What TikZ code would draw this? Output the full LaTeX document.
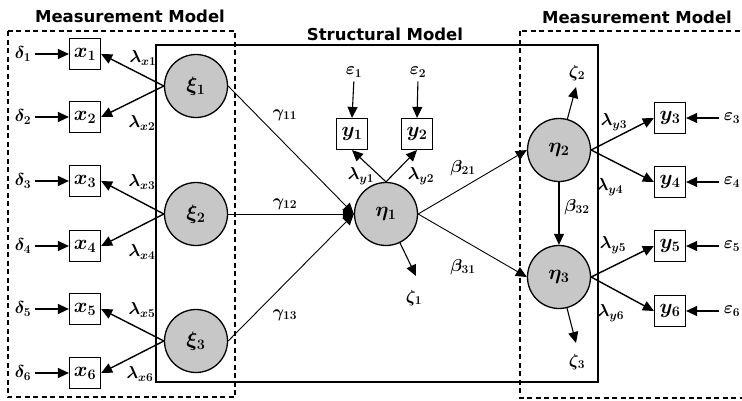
\documentclass[tikz,border=0pt]{standalone}
\usepackage{fontspec}
\usepackage{bm}
\usetikzlibrary{arrows.meta}
\newfontfamily\titlefont{DejaVu Sans}
\begin{document}
\begin{tikzpicture}[x=1pt,y=-1pt,
  lat/.style={circle,draw,line width=1.3pt,fill=black!22,minimum size=63pt,inner sep=0pt,font=\fontsize{20}{20}\selectfont},
  obs/.style={rectangle,draw,line width=1.2pt,fill=white,minimum width=31pt,minimum height=31pt,inner sep=0pt,font=\fontsize{22}{22}\selectfont},
  lab/.style={inner sep=1pt,font=\fontsize{18}{18}\selectfont},
  arr/.style={line width=1.4pt,-{Triangle[length=11pt,width=10pt]}},
  tarr/.style={line width=0.9pt,-{Triangle[length=11pt,width=10pt]}},
  ttl/.style={font=\titlefont\bfseries\fontsize{16.5}{16.5}\selectfont},
  dbox/.style={line width=1.2pt,dash pattern=on 5pt off 3.5pt},
]
\useasboundingbox (0,0) rectangle (742,400);
\fill[white] (0,0) rectangle (742,400);

% frames
\draw[line width=1.2pt] (156,45) rectangle (598,382);
\draw[dbox] (8,31) rectangle (235,397);
\draw[dbox] (520,31) rectangle (760,398);

% titles
\node[ttl] (tl) at (130,16) {Measurement Model};
\node[ttl] (tr) at (637,17) {Measurement Model};
\node[ttl] (ts) at (385,34) {Structural Model};

% latent variables
\node[lat] (xi1) at (196,86) {$\bm{\xi_1}$};
\node[lat] (xi2) at (196,214) {$\bm{\xi_2}$};
\node[lat] (xi3) at (196,341) {$\bm{\xi_3}$};
\node[lat] (eta1) at (386,214) {$\bm{\eta_1}$};
\node[lat] (eta2) at (559,150) {$\bm{\eta_2}$};
\node[lat] (eta3) at (559,277) {$\bm{\eta_3}$};

% x indicators
\foreach \i/\y in {1/54,2/117,3/181,4/246,5/309,6/373}{
  \node[obs] (x\i) at (85,\y) {$\bm{x_\i}$};
  \node[lab] (d\i) at (23,\y) {$\bm{\delta_\i}$};
  \draw[arr,shorten <=3pt] (d\i.east) -- (x\i.west);
}
\draw[arr] (xi1.west) -- (x1.east);
\draw[arr] (xi1.west) -- (x2.east);
\draw[arr] (xi2.west) -- (x3.east);
\draw[arr] (xi2.west) -- (x4.east);
\draw[arr] (xi3.west) -- (x5.east);
\draw[arr] (xi3.west) -- (x6.east);
\node[lab] (lx1) at (143,58) {$\bm{\lambda_{x1}}$};
\node[lab] (lx2) at (142,123) {$\bm{\lambda_{x2}}$};
\node[lab] (lx3) at (142,182) {$\bm{\lambda_{x3}}$};
\node[lab] (lx4) at (142,252) {$\bm{\lambda_{x4}}$};
\node[lab] (lx5) at (142,310) {$\bm{\lambda_{x5}}$};
\node[lab] (lx6) at (140,374) {$\bm{\lambda_{x6}}$};

% structural paths
\draw[tarr] (xi1.east) -- (eta1.west);
\draw[tarr] (xi2.east) -- (eta1.west);
\draw[tarr] (xi3.east) -- (eta1.west);
\node[lab] (g11) at (285,115) {$\bm{\gamma_{11}}$};
\node[lab] (g12) at (285,204) {$\bm{\gamma_{12}}$};
\node[lab] (g13) at (285,315) {$\bm{\gamma_{13}}$};

\draw[tarr] (eta1.east) -- (eta2.west);
\draw[tarr] (eta1.east) -- (eta3.west);
\draw[arr,line width=1.1pt] (eta2.south) -- (eta3.north);
\node[lab] (b21) at (463,168) {$\bm{\beta_{21}}$};
\node[lab] (b31) at (463,267) {$\bm{\beta_{31}}$};
\node[lab] (b32) at (577,207) {$\bm{\beta_{32}}$};

% y1, y2
\node[obs] (y1) at (352,134) {$\bm{y_1}$};
\node[obs] (y2) at (417,134) {$\bm{y_2}$};
\node[lab] (e1) at (354,72) {$\bm{\varepsilon_1}$};
\node[lab] (e2) at (418,72) {$\bm{\varepsilon_2}$};
\draw[arr,line width=1.1pt,shorten <=3pt] (e1.south) -- (y1.north);
\draw[arr,line width=1.1pt,shorten <=3pt] (e2.south) -- (y2.north);
\draw[arr,line width=1.1pt] (eta1.north) -- (y1.south);
\draw[arr,line width=1.1pt] (eta1.north) -- (y2.south);
\node[lab] (ly1) at (361,176) {$\bm{\lambda_{y1}}$};
\node[lab] (ly2) at (421,176) {$\bm{\lambda_{y2}}$};

% disturbances
\coordinate (z1t) at (416,276);
\coordinate (z2t) at (576,87);
\coordinate (z3t) at (576,343);
\draw[arr,line width=1.1pt] (eta1) -- (z1t);
\draw[arr,line width=1.1pt] (eta2) -- (z2t);
\draw[arr,line width=1.1pt] (eta3) -- (z3t);
\node[lab] (z1) at (414,298) {$\bm{\zeta_1}$};
\node[lab] (z2) at (577,73) {$\bm{\zeta_2}$};
\node[lab] (z3) at (577,362) {$\bm{\zeta_3}$};

% y3..y6
\foreach \i/\y in {3/118,4/182,5/246,6/311}{
  \node[obs] (y\i) at (670,\y) {$\bm{y_\i}$};
  \node[lab] (e\i) at (732,\y) {$\bm{\varepsilon_\i}$};
  \draw[arr,shorten <=4pt] (e\i.west) -- (y\i.east);
}
\draw[arr] (eta2.east) -- (y3.west);
\draw[arr] (eta2.east) -- (y4.west);
\draw[arr] (eta3.east) -- (y5.west);
\draw[arr] (eta3.east) -- (y6.west);
\node[lab] (ly3) at (614,122) {$\bm{\lambda_{y3}}$};
\node[lab] (ly4) at (610,187) {$\bm{\lambda_{y4}}$};
\node[lab] (ly5) at (613,245) {$\bm{\lambda_{y5}}$};
\node[lab] (ly6) at (611,313) {$\bm{\lambda_{y6}}$};
\end{tikzpicture}
\end{document}
